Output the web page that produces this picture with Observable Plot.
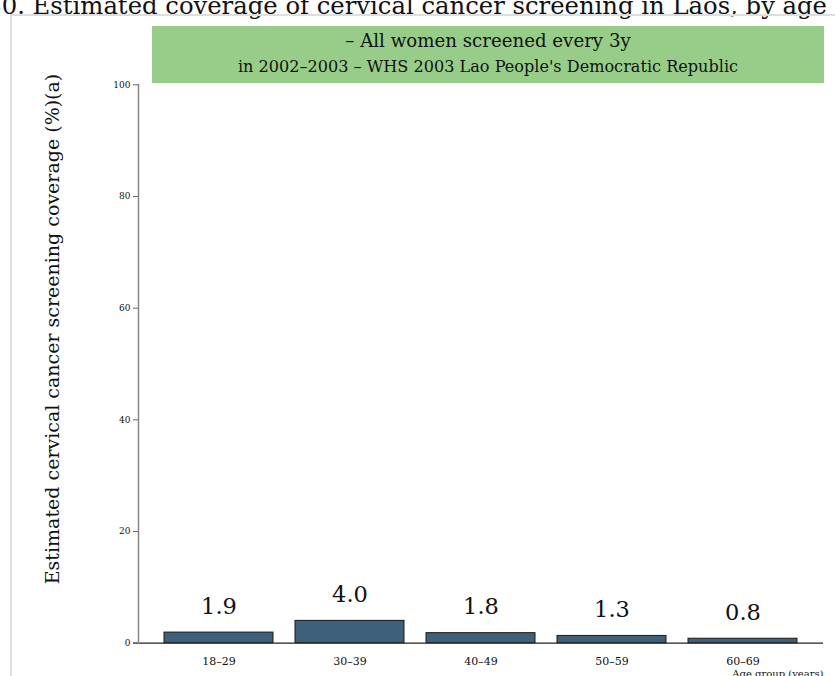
<!DOCTYPE html>
<html>
<head>
<meta charset="utf-8">
<script src="https://cdn.jsdelivr.net/npm/d3@7"></script>
<script src="https://cdn.jsdelivr.net/npm/@observablehq/plot@0.6"></script>
<style>
  html, body { margin: 0; padding: 0; background: #fff; }
  #wrap { position: relative; width: 835px; height: 676px; overflow: hidden; font-family: "DejaVu Serif", serif; }
  #title { position: absolute; right: 8px; top: -9px; font-family: "DejaVu Serif", serif; font-size: 24.3px; white-space: nowrap; color: #111; line-height: 30px; }
  #card { position: absolute; left: 10px; top: 14px; width: 900px; height: 800px; border: 2px solid #dedede; box-sizing: border-box; }
  #box { position: absolute; left: 152px; top: 26px; width: 672px; height: 57px; background: #98cd89; text-align: center; color: #111; font-family: "DejaVu Serif", serif; }
  #box .l1 { position: absolute; left: 0; right: 0; top: 4px; font-size: 18.2px; line-height: 22px; font-family: "DejaVu Serif", serif; }
  #box .l2 { position: absolute; left: 0; right: 0; top: 31px; font-size: 16.1px; line-height: 20px; font-family: "DejaVu Serif", serif; }
  #ylab { position: absolute; left: 52px; top: 329px; transform: translate(-50%, -50%) rotate(-90deg); font-family: "DejaVu Serif", serif; font-size: 19px; white-space: nowrap; color: #111; }
  #chart { position: absolute; left: 0; top: 0; }
</style>
</head>
<body>
<div id="wrap">
  <div id="title"></div>
  <div id="card"></div>
  <div id="chart"></div>
  <div id="box"><div class="l1"></div><div class="l2"></div></div>
  <div id="ylab"></div>
</div>
<script>
const title = "Figure 30. Estimated coverage of cervical cancer screening in Laos, by age";
const boxLine1 = "– All women screened every 3y";
const boxLine2 = "in 2002–2003 – WHS 2003 Lao People's Democratic Republic";
const yLabel = "Estimated cervical cancer screening coverage (%)(a)";
const xLabel = "Age group (years)";
const ageGroups = ["18–29", "30–39", "40–49", "50–59", "60–69"];
const coverage = [1.9, 4.0, 1.8, 1.3, 0.8];
const yTicks = [0, 20, 40, 60, 80, 100];

document.getElementById("title").textContent = title;
document.querySelector("#box .l1").textContent = boxLine1;
document.querySelector("#box .l2").textContent = boxLine2;
document.getElementById("ylab").textContent = yLabel;

const data = ageGroups.map((a, i) => ({age: a, value: coverage[i]}));

const chart = Plot.plot({
  width: 835,
  height: 690,
  marginTop: 84.3,
  marginBottom: 47.3,
  marginLeft: 138,
  marginRight: 12,
  style: {fontFamily: "DejaVu Serif, serif", background: "transparent", color: "#111"},
  x: {domain: ageGroups, paddingInner: 0.165, paddingOuter: 0.19, label: null},
  y: {domain: [0, 100], label: null},
  marks: [
    Plot.barY(data, {x: "age", y: "value", fill: "#3e607b", stroke: "#1a1a1a", strokeWidth: 1}),
    Plot.ruleY([0], {stroke: "#222", strokeWidth: 1.3, insetLeft: -5}),
    Plot.frame({anchor: "left", stroke: "#888", strokeWidth: 1.5}),
    Plot.axisY({ticks: yTicks, tickSize: 5, tickPadding: 3, fontSize: 9, stroke: "#666", label: null}),
    Plot.axisX({tickSize: 0, tickPadding: 14, fontSize: 11, label: null}),
    Plot.text(data, {x: "age", y: "value", text: d => d.value.toFixed(1), dy: -26, fontSize: 22.5, fill: "#111"}),
    Plot.text([xLabel], {frameAnchor: "bottom-right", text: d => d, textAnchor: "end", dy: 34, fontSize: 10, fill: "#111"})
  ]
});
document.getElementById("chart").appendChild(chart);
</script>
</body>
</html>
